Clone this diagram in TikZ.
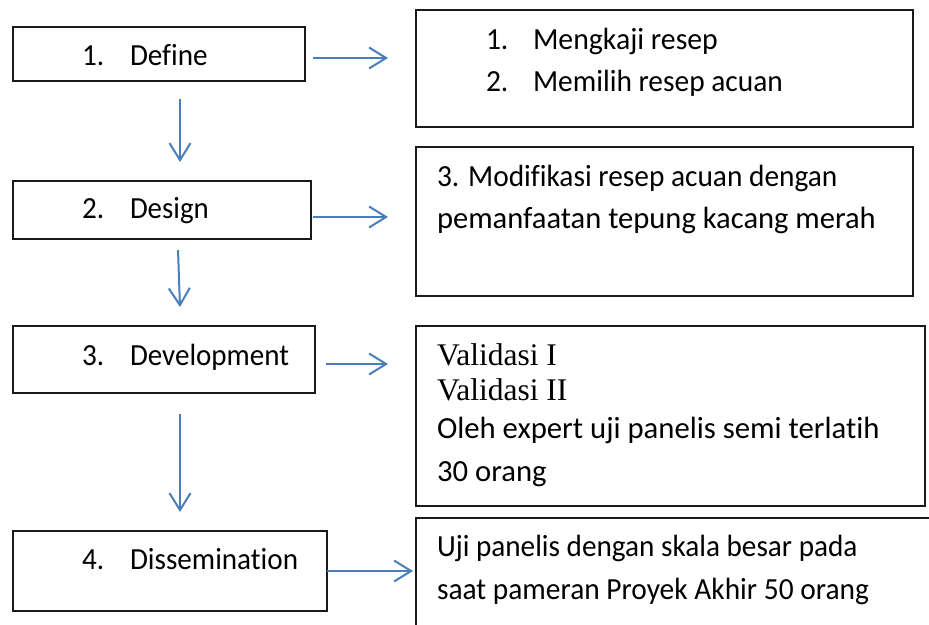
\documentclass[tikz,border=0pt]{standalone}
\usepackage{fontspec}
\setmainfont{Carlito}[Ligatures=NoCommon]
\newfontfamily\serifface{Liberation Serif}
\usetikzlibrary{arrows.meta,calc}
\definecolor{flowblue}{HTML}{4A7EBB}
\definecolor{edge}{HTML}{1A1A1A}
\tikzset{
  box/.style={draw=edge, line width=1.3pt, rectangle, inner sep=0pt, outer sep=0pt},
  txt/.style={anchor=base west, inner sep=0pt, outer sep=0pt,
    font=\fontsize{30.7}{36}\selectfont\addfontfeatures{FakeStretch=#1}},
  txt/.default=1,
  sertxt/.style={anchor=base west, inner sep=0pt, outer sep=0pt, font=\serifface\fontsize{31.5}{36}\selectfont},
  arr/.style={draw=flowblue, line width=2pt, -{Straight Barb[length=17pt,width=21pt,line width=2pt]}}
}
\begin{document}
\begin{tikzpicture}[x=1pt,y=-1pt]
\clip (0,0) rectangle (929,624);
\fill[white] (0,0) rectangle (929,624);

% stage boxes on the left
\node[box, minimum width=292, minimum height=54] (b1) at (159,54) {};
\node[box, minimum width=298, minimum height=58] (b2) at (162,210) {};
\node[box, minimum width=302, minimum height=67] (b3) at (164,359.5) {};
\node[box, minimum width=314, minimum height=80] (b4) at (170,571) {};

% activity boxes on the right
\node[box, minimum width=497, minimum height=117] (r1) at (664.5,68.5) {};
\node[box, minimum width=497, minimum height=149] (r2) at (664.5,221.5) {};
\node[box, minimum width=509, minimum height=180] (r3) at (670.5,416) {};
\node[box, minimum width=524, minimum height=122] (r4) at (678,579) {};

% stage labels
\node[txt=0.95] (n1) at (82,65) {1.};   \node[txt=0.95] (t1) at (130,65) {Define};
\node[txt=0.95] (n2) at (82,218) {2.};  \node[txt=0.94] (t2) at (130,218) {Design};
\node[txt=0.95] (n3) at (82,365) {3.};  \node[txt=0.946] (t3) at (130,365) {Development};
\node[txt=0.95] (n4) at (82,569) {4.};  \node[txt=0.95] (t4) at (130,569) {Dissemination};

% activity texts
\node[txt=0.96] (m1) at (486,49) {1.};  \node[txt=0.97] (s1) at (533,49) {Mengkaji resep};
\node[txt=0.96] (m2) at (486,91) {2.};  \node[txt=0.958] (s2) at (533,91) {Memilih resep acuan};
\node[txt=0.957] (s3) at (437,186) {3. Modifikasi resep acuan dengan};
\node[txt=0.995] (s4) at (437,228) {pemanfaatan tepung kacang merah};
\node[sertxt] (v1) at (437,365) {Validasi I};
\node[sertxt] (v2) at (437,400) {Validasi II};
\node[txt] (s5) at (437,438) {Oleh expert uji panelis semi terlatih};
\node[txt] (s6) at (437,481) {30 orang};
\node[txt=0.952] (s7) at (437,556) {Uji panelis dengan skala besar pada};
\node[txt=0.958] (s8) at (437,599) {saat pameran Proyek Akhir 50 orang};

% flow down the stages
\draw[arr] ($(b1.south)+(21,18)$) -- ($(b2.north)+(18,-19)$);
\draw[arr] ($(b2.south)+(16,11)$) -- ($(b3.north)+(16,-19)$);
\draw[arr] ($(b3.south)+(16,21)$) -- ($(b4.north)+(10,-19)$);

% stage to activity
\draw[arr] ($(b1.east)+(8,4)$) -- ($(r1.west)+(-28,-10.5)$);
\draw[arr] ($(b2.east)+(2,7)$) -- ($(r2.west)+(-28,-4.5)$);
\draw[arr] ($(b3.east)+(11,4.5)$) -- ($(r3.west)+(-28,-52)$);
\draw[arr] ($(b4.east)+(0,0)$) -- ($(r4.west)+(-3,-8)$);
\end{tikzpicture}
\end{document}
